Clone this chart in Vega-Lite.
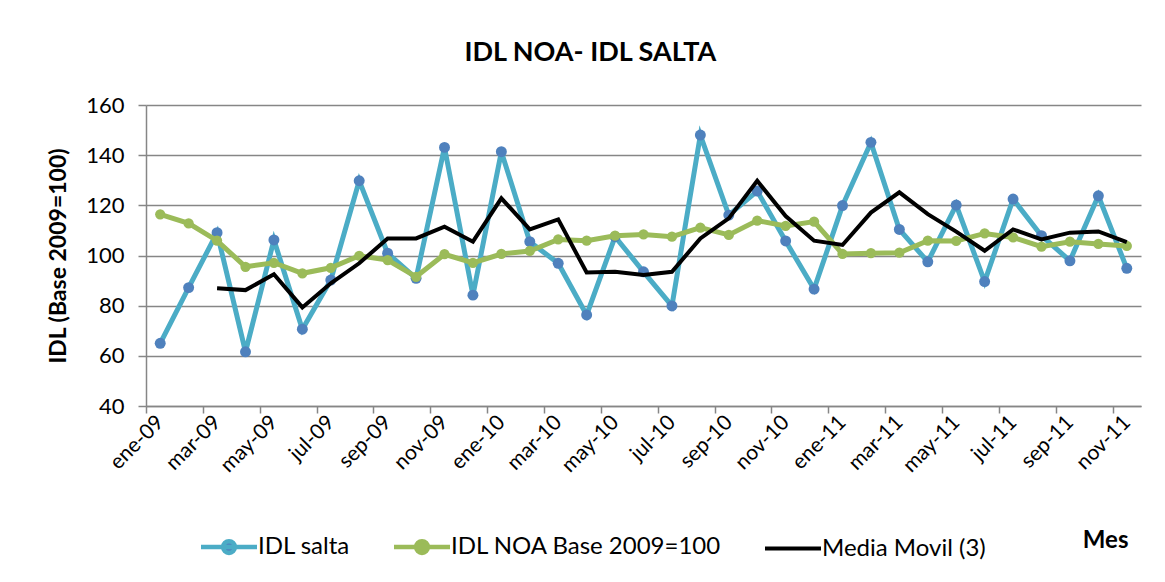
{
  "$schema": "https://vega.github.io/schema/vega-lite/v6.json",
  "width": 995,
  "height": 301,
  "autosize": {"type": "none"},
  "padding": {"left": 146, "top": 105, "right": 24, "bottom": 176},
  "background": "white",
  "title": {"text": "IDL NOA- IDL SALTA", "font": "Lato", "fontSize": 27, "fontWeight": "bold", "color": "#000000", "anchor": "middle", "frame": "bounds", "offset": 27, "dx": -4},
  "config": {
    "view": {"stroke": null},
    "font": "Lato",
    "axis": {"labelFont": "Lato", "titleFont": "Lato", "labelColor": "#000000", "titleColor": "#000000", "domainColor": "#868686", "tickColor": "#868686", "domainWidth": 1.5, "tickWidth": 1.5},
    "legend": {"labelFont": "Lato"}
  },
  "data": {"values": [
    {"mes": "ene-09", "serie": "IDL salta", "valor": 65.0},
    {"mes": "feb-09", "serie": "IDL salta", "valor": 87.2},
    {"mes": "mar-09", "serie": "IDL salta", "valor": 109.1},
    {"mes": "abr-09", "serie": "IDL salta", "valor": 61.6},
    {"mes": "may-09", "serie": "IDL salta", "valor": 106.2},
    {"mes": "jun-09", "serie": "IDL salta", "valor": 70.6},
    {"mes": "jul-09", "serie": "IDL salta", "valor": 90.2},
    {"mes": "ago-09", "serie": "IDL salta", "valor": 129.8},
    {"mes": "sep-09", "serie": "IDL salta", "valor": 100.9},
    {"mes": "oct-09", "serie": "IDL salta", "valor": 90.9},
    {"mes": "nov-09", "serie": "IDL salta", "valor": 143.1},
    {"mes": "dic-09", "serie": "IDL salta", "valor": 84.2},
    {"mes": "ene-10", "serie": "IDL salta", "valor": 141.4},
    {"mes": "feb-10", "serie": "IDL salta", "valor": 105.5},
    {"mes": "mar-10", "serie": "IDL salta", "valor": 96.9},
    {"mes": "abr-10", "serie": "IDL salta", "valor": 76.3},
    {"mes": "may-10", "serie": "IDL salta", "valor": 107.5},
    {"mes": "jun-10", "serie": "IDL salta", "valor": 93.5},
    {"mes": "jul-10", "serie": "IDL salta", "valor": 79.9},
    {"mes": "ago-10", "serie": "IDL salta", "valor": 148.0},
    {"mes": "sep-10", "serie": "IDL salta", "valor": 116.1},
    {"mes": "oct-10", "serie": "IDL salta", "valor": 125.7},
    {"mes": "nov-10", "serie": "IDL salta", "valor": 105.8},
    {"mes": "dic-10", "serie": "IDL salta", "valor": 86.6},
    {"mes": "ene-11", "serie": "IDL salta", "valor": 119.9},
    {"mes": "feb-11", "serie": "IDL salta", "valor": 145.1},
    {"mes": "mar-11", "serie": "IDL salta", "valor": 110.4},
    {"mes": "abr-11", "serie": "IDL salta", "valor": 97.5},
    {"mes": "may-11", "serie": "IDL salta", "valor": 120.1},
    {"mes": "jun-11", "serie": "IDL salta", "valor": 89.6},
    {"mes": "jul-11", "serie": "IDL salta", "valor": 122.5},
    {"mes": "ago-11", "serie": "IDL salta", "valor": 107.9},
    {"mes": "sep-11", "serie": "IDL salta", "valor": 97.9},
    {"mes": "oct-11", "serie": "IDL salta", "valor": 123.8},
    {"mes": "nov-11", "serie": "IDL salta", "valor": 94.9},
    {"mes": "ene-09", "serie": "IDL NOA Base 2009=100", "valor": 116.4},
    {"mes": "feb-09", "serie": "IDL NOA Base 2009=100", "valor": 112.8},
    {"mes": "mar-09", "serie": "IDL NOA Base 2009=100", "valor": 105.9},
    {"mes": "abr-09", "serie": "IDL NOA Base 2009=100", "valor": 95.5},
    {"mes": "may-09", "serie": "IDL NOA Base 2009=100", "valor": 97.1},
    {"mes": "jun-09", "serie": "IDL NOA Base 2009=100", "valor": 92.9},
    {"mes": "jul-09", "serie": "IDL NOA Base 2009=100", "valor": 95.1},
    {"mes": "ago-09", "serie": "IDL NOA Base 2009=100", "valor": 99.9},
    {"mes": "sep-09", "serie": "IDL NOA Base 2009=100", "valor": 98.2},
    {"mes": "oct-09", "serie": "IDL NOA Base 2009=100", "valor": 91.5},
    {"mes": "nov-09", "serie": "IDL NOA Base 2009=100", "valor": 100.5},
    {"mes": "dic-09", "serie": "IDL NOA Base 2009=100", "valor": 97.1},
    {"mes": "ene-10", "serie": "IDL NOA Base 2009=100", "valor": 100.6},
    {"mes": "feb-10", "serie": "IDL NOA Base 2009=100", "valor": 101.8},
    {"mes": "mar-10", "serie": "IDL NOA Base 2009=100", "valor": 106.4},
    {"mes": "abr-10", "serie": "IDL NOA Base 2009=100", "valor": 105.9},
    {"mes": "may-10", "serie": "IDL NOA Base 2009=100", "valor": 107.9},
    {"mes": "jun-10", "serie": "IDL NOA Base 2009=100", "valor": 108.4},
    {"mes": "jul-10", "serie": "IDL NOA Base 2009=100", "valor": 107.5},
    {"mes": "ago-10", "serie": "IDL NOA Base 2009=100", "valor": 111.1},
    {"mes": "sep-10", "serie": "IDL NOA Base 2009=100", "valor": 108.2},
    {"mes": "oct-10", "serie": "IDL NOA Base 2009=100", "valor": 113.9},
    {"mes": "nov-10", "serie": "IDL NOA Base 2009=100", "valor": 111.8},
    {"mes": "dic-10", "serie": "IDL NOA Base 2009=100", "valor": 113.5},
    {"mes": "ene-11", "serie": "IDL NOA Base 2009=100", "valor": 100.6},
    {"mes": "feb-11", "serie": "IDL NOA Base 2009=100", "valor": 100.9},
    {"mes": "mar-11", "serie": "IDL NOA Base 2009=100", "valor": 101.1},
    {"mes": "abr-11", "serie": "IDL NOA Base 2009=100", "valor": 105.9},
    {"mes": "may-11", "serie": "IDL NOA Base 2009=100", "valor": 105.8},
    {"mes": "jun-11", "serie": "IDL NOA Base 2009=100", "valor": 108.8},
    {"mes": "jul-11", "serie": "IDL NOA Base 2009=100", "valor": 107.2},
    {"mes": "ago-11", "serie": "IDL NOA Base 2009=100", "valor": 103.5},
    {"mes": "sep-11", "serie": "IDL NOA Base 2009=100", "valor": 105.5},
    {"mes": "oct-11", "serie": "IDL NOA Base 2009=100", "valor": 104.6},
    {"mes": "nov-11", "serie": "IDL NOA Base 2009=100", "valor": 103.8},
    {"mes": "mar-09", "serie": "Media Movil (3)", "valor": 86.9},
    {"mes": "abr-09", "serie": "Media Movil (3)", "valor": 86.2},
    {"mes": "may-09", "serie": "Media Movil (3)", "valor": 92.5},
    {"mes": "jun-09", "serie": "Media Movil (3)", "valor": 79.3},
    {"mes": "jul-09", "serie": "Media Movil (3)", "valor": 88.9},
    {"mes": "ago-09", "serie": "Media Movil (3)", "valor": 96.9},
    {"mes": "sep-09", "serie": "Media Movil (3)", "valor": 106.8},
    {"mes": "oct-09", "serie": "Media Movil (3)", "valor": 106.8},
    {"mes": "nov-09", "serie": "Media Movil (3)", "valor": 111.5},
    {"mes": "dic-09", "serie": "Media Movil (3)", "valor": 105.5},
    {"mes": "ene-10", "serie": "Media Movil (3)", "valor": 122.8},
    {"mes": "feb-10", "serie": "Media Movil (3)", "valor": 110.4},
    {"mes": "mar-10", "serie": "Media Movil (3)", "valor": 114.4},
    {"mes": "abr-10", "serie": "Media Movil (3)", "valor": 93.2},
    {"mes": "may-10", "serie": "Media Movil (3)", "valor": 93.5},
    {"mes": "jun-10", "serie": "Media Movil (3)", "valor": 92.2},
    {"mes": "jul-10", "serie": "Media Movil (3)", "valor": 93.5},
    {"mes": "ago-10", "serie": "Media Movil (3)", "valor": 106.8},
    {"mes": "sep-10", "serie": "Media Movil (3)", "valor": 114.8},
    {"mes": "oct-10", "serie": "Media Movil (3)", "valor": 129.8},
    {"mes": "nov-10", "serie": "Media Movil (3)", "valor": 115.7},
    {"mes": "dic-10", "serie": "Media Movil (3)", "valor": 105.9},
    {"mes": "ene-11", "serie": "Media Movil (3)", "valor": 104.2},
    {"mes": "feb-11", "serie": "Media Movil (3)", "valor": 117.1},
    {"mes": "mar-11", "serie": "Media Movil (3)", "valor": 125.2},
    {"mes": "abr-11", "serie": "Media Movil (3)", "valor": 116.5},
    {"mes": "may-11", "serie": "Media Movil (3)", "valor": 109.5},
    {"mes": "jun-11", "serie": "Media Movil (3)", "valor": 101.9},
    {"mes": "jul-11", "serie": "Media Movil (3)", "valor": 110.4},
    {"mes": "ago-11", "serie": "Media Movil (3)", "valor": 106.4},
    {"mes": "sep-11", "serie": "Media Movil (3)", "valor": 109.1},
    {"mes": "oct-11", "serie": "Media Movil (3)", "valor": 109.6},
    {"mes": "nov-11", "serie": "Media Movil (3)", "valor": 105.3}
  ]},
  "encoding": {
    "x": {
      "field": "mes", "type": "ordinal", "bandPosition": 0.5,
      "scale": {"type": "band", "paddingInner": 0, "paddingOuter": 0,
        "domain": ["ene-09","feb-09","mar-09","abr-09","may-09","jun-09","jul-09","ago-09","sep-09","oct-09","nov-09","dic-09","ene-10","feb-10","mar-10","abr-10","may-10","jun-10","jul-10","ago-10","sep-10","oct-10","nov-10","dic-10","ene-11","feb-11","mar-11","abr-11","may-11","jun-11","jul-11","ago-11","sep-11","oct-11","nov-11"]},
      "axis": {
        "values": ["ene-09","mar-09","may-09","jul-09","sep-09","nov-09","ene-10","mar-10","may-10","jul-10","sep-10","nov-10","ene-11","mar-11","may-11","jul-11","sep-11","nov-11"],
        "tickOffset": -14.2, "labelOffset": 14.2,
        "labelAngle": -45, "labelAlign": "right", "labelBaseline": "middle", "labelFontSize": 21, "labelPadding": 6, "tickSize": 7, "grid": false,
        "title": "Mes", "titleFontSize": 24, "titleFontWeight": "bold", "titleAnchor": "end", "titleAlign": "right", "titleBaseline": "middle", "titleX": 982, "titleY": 134
      }
    },
    "y": {
      "field": "valor", "type": "quantitative",
      "scale": {"domain": [40, 160], "nice": false, "zero": false},
      "axis": {
        "values": [40, 60, 80, 100, 120, 140, 160], "grid": true, "gridColor": "#868686", "gridWidth": 1.5, "tickSize": 8, "labelFontSize": 22, "labelPadding": 14,
        "title": "IDL (Base 2009=100)", "titleFontSize": 23, "titleFontWeight": "bold", "titlePadding": 15
      }
    }
  },
  "layer": [
    {
      "transform": [{"filter": "datum.serie === 'IDL salta'"}],
      "mark": {"type": "line", "strokeWidth": 5},
      "encoding": {
        "color": {
          "field": "serie", "type": "nominal",
          "scale": {"domain": ["IDL salta", "IDL NOA Base 2009=100", "Media Movil (3)"], "range": ["#4BACC6", "#9BBB59", "#000000"]},
          "legend": {
            "orient": "none", "legendX": 71, "legendY": 430, "direction": "horizontal", "title": null,
            "symbolSize": 3136, "symbolStrokeWidth": 5, "labelFontSize": 24, "labelColor": "#000000", "labelOffset": 17, "labelLimit": 500, "columnPadding": 35,
            "encode": {"symbols": {"update": {
              "shape": {"signal": "datum.value === 'Media Movil (3)' ? 'stroke' : 'M-1,0H1M0.21,0A0.21,0.21 0 1 1 -0.21,0A0.21,0.21 0 1 1 0.21,0Z'"},
              "fill": {"signal": "datum.value === 'IDL salta' ? '#4F81BD' : datum.value === 'IDL NOA Base 2009=100' ? '#9BBB59' : 'transparent'"},
              "fillOpacity": {"value": 1},
              "strokeWidth": {"signal": "datum.value === 'Media Movil (3)' ? 4 : 4.5"}
            }}}
          }
        }
      }
    },
    {
      "transform": [{"filter": "datum.serie === 'IDL salta'"}],
      "mark": {"type": "point", "filled": true, "fill": "#4F81BD", "opacity": 1, "size": 120, "strokeWidth": 0}
    },
    {
      "transform": [{"filter": "datum.serie === 'IDL NOA Base 2009=100'"}],
      "mark": {"type": "line", "strokeWidth": 5},
      "encoding": {"color": {"field": "serie", "type": "nominal"}}
    },
    {
      "transform": [{"filter": "datum.serie === 'IDL NOA Base 2009=100'"}],
      "mark": {"type": "point", "filled": true, "fill": "#9BBB59", "opacity": 1, "size": 105, "strokeWidth": 0}
    },
    {
      "transform": [{"filter": "datum.serie === 'Media Movil (3)'"}],
      "mark": {"type": "line", "strokeWidth": 4},
      "encoding": {"color": {"field": "serie", "type": "nominal"}}
    }
  ]
}
